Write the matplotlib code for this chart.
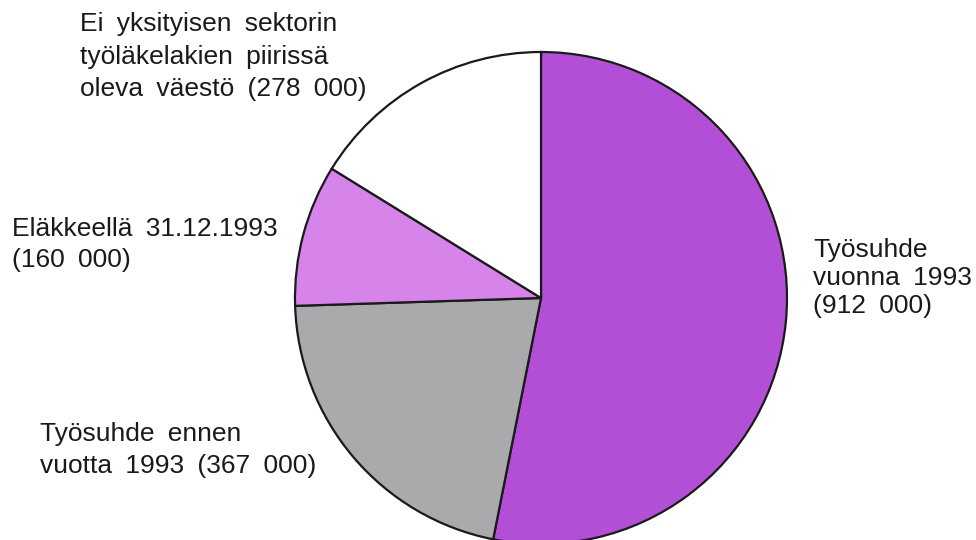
import matplotlib.pyplot as plt

# data
labels = [
    "Työsuhde\nvuonna 1993\n(912 000)",
    "Työsuhde ennen\nvuotta 1993 (367 000)",
    "Eläkkeellä 31.12.1993\n(160 000)",
    "Ei yksityisen sektorin\ntyöläkelakien piirissä\noleva väestö (278 000)",
]
values = [912000, 367000, 160000, 278000]
colors = ["#b34fd6", "#aaa9ac", "#d683ea", "#ffffff"]

W, H = 976, 540

plt.rcParams['font.family'] = ['Liberation Sans', 'DejaVu Sans']

fig = plt.figure(figsize=(W / 100, H / 100), dpi=100)
ax = fig.add_axes([0, 0, 1, 1])

ax.pie(values, colors=colors, startangle=90, counterclock=False,
       center=(541, H - 298), radius=246, frame=True,
       wedgeprops=dict(edgecolor='#1a1a1a', linewidth=1.6))
ax.set_xlim(0, W)
ax.set_ylim(0, H)
ax.set_aspect('equal')
ax.axis('off')

# label positions (left x, top y in pixels from top) and line spacing
label_pos = [(813, 238, 1.21), (40, 422, 1.44), (12, 217, 1.36), (80, 12, 1.46)]
for text, (x, y, ls) in zip(labels, label_pos):
    # the typeset original has wide word spacing
    ax.text(x, H - y, text.replace(' ', '\u2002'), fontsize=19, color='#1a1a1a',
            ha='left', va='top', linespacing=ls)

fig.savefig('out.png', dpi=100)
